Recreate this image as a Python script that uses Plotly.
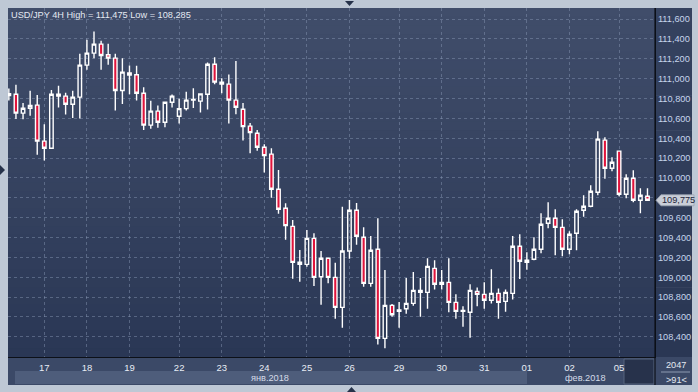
import plotly.graph_objects as go

# ---------------- data (USD/JPY 4H candles) ----------------
opens = [110.83, 110.844, 110.653, 110.703, 110.734, 110.371, 110.300, 110.844, 110.824, 110.743,
         110.814, 111.137, 111.258, 111.348, 111.241, 111.207, 110.881, 111.059, 111.039, 110.854,
         110.532, 110.673, 110.562, 110.763, 110.622, 110.699, 110.785, 110.774, 110.844, 111.146,
         110.965, 110.945, 110.784, 110.693, 110.522, 110.451, 110.310, 110.240, 109.887, 109.695,
         109.513, 109.153, 109.130, 109.392, 109.006, 109.191, 108.999, 108.697, 109.264, 109.675,
         109.403, 108.939, 109.282, 108.385, 108.717, 108.657, 108.683, 108.737, 108.868, 108.848,
         109.090, 108.929, 108.949, 108.747, 108.657, 108.647, 108.858, 108.828, 108.768, 108.838,
         108.757, 108.838, 109.312, 109.151, 109.181, 109.282, 109.544, 109.594, 109.503, 109.282,
         109.443, 109.675, 109.715, 109.856, 110.381, 110.098, 110.270, 109.836, 109.997, 109.776,
         109.816]
highs = [110.90, 110.938, 110.754, 110.878, 110.837, 110.542, 110.885, 110.928, 110.858, 110.878,
         111.251, 111.392, 111.475, 111.382, 111.351, 111.251, 111.207, 111.133, 111.130, 110.915,
         110.777, 110.729, 110.770, 110.840, 110.797, 110.868, 110.905, 110.854, 111.163, 111.217,
         111.005, 111.042, 111.177, 110.754, 110.555, 110.484, 110.340, 110.300, 110.081, 109.745,
         109.577, 109.274, 109.476, 109.443, 109.265, 109.200, 109.147, 109.711, 109.779, 109.748,
         109.503, 109.415, 109.594, 109.073, 108.730, 108.750, 108.992, 109.053, 108.992, 109.191,
         109.171, 109.073, 109.191, 108.828, 108.707, 108.929, 108.898, 108.949, 109.080, 108.888,
         108.878, 109.415, 109.433, 109.251, 109.402, 109.644, 109.755, 109.685, 109.584, 109.463,
         109.685, 109.826, 109.927, 110.471, 110.411, 110.209, 110.275, 110.038, 110.078, 109.897,
         109.897]
lows = [110.78, 110.595, 110.592, 110.626, 110.233, 110.175, 110.295, 110.709, 110.639, 110.605,
        110.598, 111.089, 111.207, 111.089, 111.140, 110.679, 110.746, 110.844, 110.780, 110.484,
        110.497, 110.507, 110.511, 110.709, 110.548, 110.679, 110.706, 110.659, 110.689, 110.945,
        110.854, 110.548, 110.642, 110.377, 110.249, 110.275, 110.054, 109.802, 109.640, 109.378,
        108.986, 108.955, 109.106, 108.912, 108.723, 108.939, 108.582, 108.491, 109.187, 109.328,
        108.905, 108.905, 108.324, 108.285, 108.602, 108.491, 108.632, 108.713, 108.602, 108.683,
        108.878, 108.878, 108.647, 108.582, 108.501, 108.390, 108.707, 108.683, 108.737, 108.582,
        108.653, 108.777, 108.982, 109.076, 109.171, 109.241, 109.493, 109.221, 109.211, 109.231,
        109.271, 109.610, 109.705, 109.826, 109.993, 110.068, 109.816, 109.796, 109.755, 109.645,
        109.775]
closes = [110.85, 110.653, 110.703, 110.730, 110.371, 110.300, 110.844, 110.824, 110.743, 110.814,
          111.137, 111.258, 111.348, 111.234, 111.207, 110.881, 111.066, 111.036, 110.854, 110.532,
          110.673, 110.562, 110.763, 110.824, 110.699, 110.784, 110.790, 110.847, 111.146, 110.965,
          110.945, 110.784, 110.713, 110.517, 110.457, 110.310, 110.225, 109.887, 109.685, 109.520,
          109.150, 109.130, 109.392, 108.999, 109.191, 108.999, 108.697, 109.264, 109.675, 109.413,
          108.939, 109.272, 108.385, 108.717, 108.622, 108.670, 108.737, 108.868, 108.848, 109.110,
          108.929, 108.949, 108.747, 108.657, 108.667, 108.868, 108.828, 108.768, 108.838, 108.747,
          108.848, 109.312, 109.161, 109.171, 109.282, 109.534, 109.594, 109.503, 109.282, 109.433,
          109.665, 109.715, 109.866, 110.391, 110.098, 110.158, 109.836, 109.997, 109.776, 109.826,
          109.775]

day_tick_index = [5, 11, 17, 24, 30, 36, 42, 48, 55, 61, 67, 73, 79, 86]
day_tick_text = ["17", "18", "19", "22", "23", "24", "25", "26", "29", "30", "31", "01", "02", "05"]
price_ticks = [108.4, 108.6, 108.8, 109.0, 109.2, 109.4, 109.6, 109.8, 110.0,
               110.2, 110.4, 110.6, 110.8, 111.0, 111.2, 111.4, 111.6]
price_tick_text = ["108,400", "108,600", "108,800", "109,000", "109,200", "109,400", "109,600",
                   "", "110,000", "110,200", "110,400", "110,600", "110,800", "111,000",
                   "111,200", "111,400", "111,600"]   # 109,800 is covered by the last-price label
month_labels = ["янв.2018", "фев.2018"]
title_text = "USD/JPY 4H High = 111,475 Low = 108,285"
last_price_text = "109,775"
bar_count_text = "2047"
scale_text = ">91<"

# ---------------- layout geometry (pixels) ----------------
W, H = 698, 392
L, R, T, B = 8, 655, 8, 357


def px(x):
    return (x - L) / (R - L)


def py(y):
    return (B - y) / (B - T)


def mix(c1, c2, t):
    return "rgb(%d,%d,%d)" % tuple(round(a + (b - a) * t) for a, b in zip(c1, c2))


FONT = "Liberation Sans, Arial"
FS = 9.2
shapes = []
# plot area vertical gradient
top_c, bot_c = (64, 77, 106), (42, 55, 85)
n = 40
for k in range(n):
    y0 = T + (B - T) * k / n
    y1 = T + (B - T) * (k + 1) / n + 0.6
    shapes.append(dict(type="rect", xref="paper", yref="paper", x0=0, x1=1,
                       y0=py(y1), y1=py(y0), fillcolor=mix(top_c, bot_c, (k + 0.5) / n),
                       line=dict(width=0), layer="below"))
# right axis panel gradient
rt, rb = (53, 66, 95), (42, 55, 84)
for k in range(20):
    y0 = T + (B - T) * k / 20
    y1 = T + (B - T) * (k + 1) / 20 + 0.6
    shapes.append(dict(type="rect", xref="paper", yref="paper", x0=px(R), x1=px(692),
                       y0=py(y1), y1=py(y0), fillcolor=mix(rt, rb, (k + 0.5) / 20),
                       line=dict(width=0), layer="below"))
# bottom axis panel
shapes.append(dict(type="rect", xref="paper", yref="paper", x0=px(L), x1=px(692),
                   y0=py(385), y1=py(B), fillcolor="#3b4967", line=dict(width=0), layer="below"))
# month band highlight (Jan)
shapes.append(dict(type="rect", xref="paper", yref="paper", x0=px(15), x1=px(527),
                   y0=py(384), y1=py(371), fillcolor="#4e5d7b", line=dict(width=0), layer="below"))
# dark box at bottom right of time axis
shapes.append(dict(type="rect", xref="paper", yref="paper", x0=px(624), x1=px(654),
                   y0=py(384), y1=py(359), fillcolor="#27324b",
                   line=dict(width=1, color="#56647f"), layer="below"))
# bottom right corner separator
shapes.append(dict(type="line", xref="paper", yref="paper", x0=px(661), x1=px(690),
                   y0=py(372), y1=py(372), line=dict(width=1, color="#8e9bb2")))
# vertical separator continuing below axis
shapes.append(dict(type="line", xref="paper", yref="paper", x0=px(R), x1=px(R),
                   y0=py(385), y1=py(T), line=dict(width=1.2, color="#0c1018")))
# last price label
lp_y = 200.3
shapes.append(dict(type="path", xref="paper", yref="paper",
                   path="M %f,%f L %f,%f L %f,%f L %f,%f L %f,%f Z" % (
                       px(656), py(lp_y), px(661), py(lp_y - 5.5), px(694), py(lp_y - 5.5),
                       px(694), py(lp_y + 5.5), px(661), py(lp_y + 5.5)),
                   fillcolor="#c9ced8", line=dict(width=0.8, color="#9aa3b3"), layer="above"))
# UI triangles
tri_col = "#26324a"
shapes.append(dict(type="path", xref="paper", yref="paper",
                   path="M %f,%f L %f,%f L %f,%f Z" % (px(345), py(1), px(354), py(1), px(349.5), py(6)),
                   fillcolor=tri_col, line=dict(width=0)))
shapes.append(dict(type="path", xref="paper", yref="paper",
                   path="M %f,%f L %f,%f L %f,%f Z" % (px(347), py(392), px(356), py(392), px(351.5), py(387)),
                   fillcolor=tri_col, line=dict(width=0)))
shapes.append(dict(type="path", xref="paper", yref="paper",
                   path="M %f,%f L %f,%f L %f,%f Z" % (px(0), py(165), px(0), py(175), px(5), py(170)),
                   fillcolor=tri_col, line=dict(width=0)))

annotations = [
    dict(text=title_text, xref="paper", yref="paper", x=px(9), y=py(15.5), xanchor="left",
         yanchor="middle", showarrow=False, font=dict(family=FONT, size=FS, color="#e4e9f2")),
    dict(text=month_labels[0], xref="paper", yref="paper", x=px(270), y=py(378), xanchor="center",
         yanchor="middle", showarrow=False, font=dict(family=FONT, size=FS, color="#d4dbe8")),
    dict(text=month_labels[1], xref="paper", yref="paper", x=px(585), y=py(378), xanchor="center",
         yanchor="middle", showarrow=False, font=dict(family=FONT, size=FS, color="#d4dbe8")),
    dict(text=last_price_text, xref="paper", yref="paper", x=px(660), y=py(lp_y), xanchor="left",
         yanchor="middle", showarrow=False, font=dict(family=FONT, size=FS, color="#1d2538")),
    dict(text=bar_count_text, xref="paper", yref="paper", x=px(676), y=py(364.5), xanchor="center",
         yanchor="middle", showarrow=False, font=dict(family=FONT, size=FS, color="#e4e9f2")),
    dict(text=scale_text, xref="paper", yref="paper", x=px(676), y=py(379.5), xanchor="center",
         yanchor="middle", showarrow=False, font=dict(family=FONT, size=FS, color="#e4e9f2")),
]

fig = go.Figure(go.Candlestick(
    x=list(range(len(opens))), open=opens, high=highs, low=lows, close=closes,
    increasing=dict(line=dict(color="#ffffff", width=1.4), fillcolor="rgba(0,0,0,0)"),
    decreasing=dict(line=dict(color="#ffffff", width=1.4), fillcolor="#e0143c"),
    whiskerwidth=0, hoverinfo="skip", showlegend=False))

fig.update_layout(
    width=W, height=H, margin=dict(l=L, r=W - R, t=T, b=H - B),
    paper_bgcolor="#bec8d5", plot_bgcolor="#37445f",
    showlegend=False, hovermode=False,
    shapes=shapes, annotations=annotations,
    xaxis=dict(range=[-0.12, 91.06], rangeslider=dict(visible=False),
               tickmode="array", tickvals=day_tick_index, ticktext=day_tick_text,
               showgrid=True, gridcolor="rgba(140,155,185,0.45)", griddash="3px,3px", gridwidth=1,
               showline=True, linecolor="#0c1018", linewidth=1.2, ticks="", zeroline=False,
               ticklabelstandoff=1,
               tickfont=dict(family=FONT, size=9.5, color="#e8edf6")),
    yaxis=dict(range=[108.197, 111.712], side="right", tickmode="array", tickvals=price_ticks,
               ticktext=price_tick_text, showgrid=True, gridcolor="rgba(140,155,185,0.45)",
               griddash="3px,3px", gridwidth=1, showline=True, linecolor="#0c1018", linewidth=1.2,
               ticks="", zeroline=False, ticklabelstandoff=0,
               tickfont=dict(family=FONT, size=FS, color="#c6d5ec")),
)

fig.write_html("out.html")
